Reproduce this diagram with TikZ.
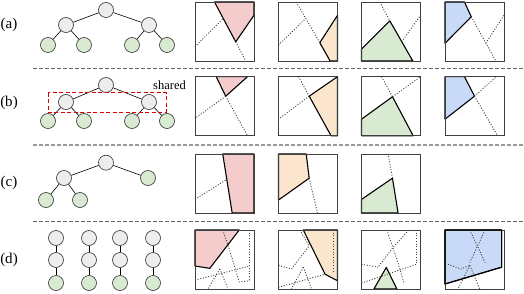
\documentclass[tikz,border=0pt]{standalone}
\usepackage{fontspec}
\setmainfont{Liberation Serif}
\usepackage{tikz}
\usetikzlibrary{positioning,calc}
\definecolor{cRed}{HTML}{F4CCCC}
\definecolor{cOrange}{HTML}{FCE5CD}
\definecolor{cGreen}{HTML}{D9EAD3}
\definecolor{cBlue}{HTML}{C9DAF8}
\tikzset{VERTEX/.style={circle,minimum size=15pt,inner sep=0pt,draw=black!80,semithick,fill=black!7}}
\tikzset{LEAF/.style={VERTEX,fill=cGreen}}
\tikzset{EDGE/.style={semithick,black}}
\tikzset{LABEL/.style={inner sep=0pt,font=\fontsize{15}{17}\selectfont}}
\tikzset{SEP/.style={line width=1.2pt,black!60,dash pattern=on 3.5pt off 2.5pt}}
\tikzset{FRAME/.style={draw=black!75,line width=0.9pt}}
\tikzset{REGION/.style={draw=black,line width=1.1pt,line join=round}}
\tikzset{CUT/.style={line width=0.9pt,black!75,dash pattern=on 1pt off 1.7pt}}
\tikzset{SQUARE/.style={x=59pt,y=-59pt}}

\begin{document}
\begin{tikzpicture}[x=1pt,y=-1pt]
\useasboundingbox (0,0) rectangle (524,294);

% row labels
\node[LABEL] (n_lab_a) at (9,25) {(a)};
\node[LABEL] (n_lab_b) at (9,103) {(b)};
\node[LABEL] (n_lab_c) at (9,183) {(c)};
\node[LABEL] (n_lab_d) at (9,260) {(d)};

% separators
\draw[SEP] (33,68.3) -- (524,68.3);
\draw[SEP,black!40] (33,145) -- (524,145);
\draw[SEP] (33,221.7) -- (524,221.7);

% (a) full tree
\node[VERTEX] (n_a_root) at (106,10) {};
\node[VERTEX] (n_a_l) at (66,25) {};
\node[VERTEX] (n_a_r) at (149,25) {};
\node[LEAF] (n_a_ll) at (48,45) {};
\node[LEAF] (n_a_lr) at (84,45) {};
\node[LEAF] (n_a_rl) at (132,45) {};
\node[LEAF] (n_a_rr) at (167,45) {};
\draw[EDGE] (n_a_root) -- (n_a_l);
\draw[EDGE] (n_a_root) -- (n_a_r);
\draw[EDGE] (n_a_l) -- (n_a_ll);
\draw[EDGE] (n_a_l) -- (n_a_lr);
\draw[EDGE] (n_a_r) -- (n_a_rl);
\draw[EDGE] (n_a_r) -- (n_a_rr);

% (b) tree with shared level
\node[VERTEX] (n_b_root) at (106,85) {};
\node[VERTEX] (n_b_l) at (66,102) {};
\node[VERTEX] (n_b_r) at (149,102) {};
\node[LEAF] (n_b_ll) at (48,121) {};
\node[LEAF] (n_b_lr) at (84,121) {};
\node[LEAF] (n_b_rl) at (132,121) {};
\node[LEAF] (n_b_rr) at (167,121) {};
\draw[EDGE] (n_b_root) -- (n_b_l);
\draw[EDGE] (n_b_root) -- (n_b_r);
\draw[EDGE] (n_b_l) -- (n_b_ll);
\draw[EDGE] (n_b_l) -- (n_b_lr);
\draw[EDGE] (n_b_r) -- (n_b_rl);
\draw[EDGE] (n_b_r) -- (n_b_rr);
\draw[red!85!black,line width=1pt,dash pattern=on 4pt off 2.5pt] (48,92.7) rectangle (166,112.3);
\node[anchor=east,inner sep=0pt,font=\fontsize{12.5}{14}\selectfont] (n_shared) at (186,85) {shared};

% (c) unbalanced tree
\node[VERTEX] (n_c_root) at (106,162.7) {};
\node[VERTEX] (n_c_l) at (64,178) {};
\node[LEAF] (n_c_r) at (148,178) {};
\node[LEAF] (n_c_ll) at (46,200) {};
\node[LEAF] (n_c_lr) at (80,200) {};
\draw[EDGE] (n_c_root) -- (n_c_l);
\draw[EDGE] (n_c_root) -- (n_c_r);
\draw[EDGE] (n_c_l) -- (n_c_ll);
\draw[EDGE] (n_c_l) -- (n_c_lr);

% (d) chains
\node[VERTEX] (n_d_1a) at (56,238) {};
\node[VERTEX] (n_d_1b) at (56,260) {};
\node[LEAF] (n_d_1c) at (56,283) {};
\node[VERTEX] (n_d_2a) at (89,238) {};
\node[VERTEX] (n_d_2b) at (89,260) {};
\node[LEAF] (n_d_2c) at (89,283) {};
\node[VERTEX] (n_d_3a) at (120,238) {};
\node[VERTEX] (n_d_3b) at (120,260) {};
\node[LEAF] (n_d_3c) at (120,283) {};
\node[VERTEX] (n_d_4a) at (153,238) {};
\node[VERTEX] (n_d_4b) at (153,260) {};
\node[LEAF] (n_d_4c) at (153,283) {};
\draw[EDGE] (n_d_1a) -- (n_d_1b) -- (n_d_1c);
\draw[EDGE] (n_d_2a) -- (n_d_2b) -- (n_d_2c);
\draw[EDGE] (n_d_3a) -- (n_d_3b) -- (n_d_3c);
\draw[EDGE] (n_d_4a) -- (n_d_4b) -- (n_d_4c);

% ---- row (a) squares
\begin{scope}[shift={(195,2)},SQUARE]
\draw[REGION,fill=cRed] (0.33,0) -- (0.69,0.675) -- (1,0.225) -- (1,0) -- cycle;
\draw[CUT] (0,0.76) -- (0.48,0.28);
\draw[CUT] (0.69,0.675) -- (0.86,1);
\draw[FRAME] (0,0) rectangle (1,1);
\end{scope}
\begin{scope}[shift={(278.5,2)},SQUARE]
\draw[REGION,fill=cOrange] (0.70,0.69) -- (1,0.225) -- (1,1) -- (0.875,1) -- cycle;
\draw[CUT] (0.30,0) -- (0.70,0.69);
\draw[CUT] (0,0.73) -- (0.46,0.28);
\draw[FRAME] (0,0) rectangle (1,1);
\end{scope}
\begin{scope}[shift={(361.5,2)},SQUARE]
\draw[REGION,fill=cGreen] (0,0.80) -- (0.48,0.32) -- (0.87,1) -- (0,1) -- cycle;
\draw[CUT] (0.31,0) -- (0.48,0.32);
\draw[CUT] (0.68,0.675) -- (1,0.225);
\draw[FRAME] (0,0) rectangle (1,1);
\end{scope}
\begin{scope}[shift={(445,2)},SQUARE]
\draw[REGION,fill=cBlue] (0,0) -- (0.33,0) -- (0.445,0.25) -- (0,0.70) -- cycle;
\draw[CUT] (0.445,0.25) -- (0.86,1);
\draw[CUT] (0.69,0.70) -- (1,0.225);
\draw[FRAME] (0,0) rectangle (1,1);
\end{scope}

% ---- row (b) squares
\begin{scope}[shift={(195,76.7)},SQUARE]
\draw[REGION,fill=cRed] (0.36,0) -- (0.89,0) -- (0.52,0.33) -- cycle;
\draw[CUT] (0.52,0.33) -- (0,0.705);
\draw[CUT] (0.52,0.33) -- (0.89,1);
\draw[FRAME] (0,0) rectangle (1,1);
\end{scope}
\begin{scope}[shift={(278.5,76.7)},SQUARE]
\draw[REGION,fill=cOrange] (0.52,0.33) -- (1,0) -- (1,1) -- (0.89,1) -- cycle;
\draw[CUT] (0.34,0) -- (0.52,0.33);
\draw[CUT] (0.52,0.33) -- (0,0.72);
\draw[FRAME] (0,0) rectangle (1,1);
\end{scope}
\begin{scope}[shift={(361.5,76.7)},SQUARE]
\draw[REGION,fill=cGreen] (0,0.72) -- (0.525,0.34) -- (0.875,1) -- (0,1) -- cycle;
\draw[CUT] (0.34,0) -- (0.525,0.34);
\draw[CUT] (0.525,0.34) -- (1,0);
\draw[FRAME] (0,0) rectangle (1,1);
\end{scope}
\begin{scope}[shift={(445,76.7)},SQUARE]
\draw[REGION,fill=cBlue] (0,0) -- (0.33,0) -- (0.5,0.33) -- (0,0.72) -- cycle;
\draw[CUT] (0.5,0.33) -- (0.87,0);
\draw[CUT] (0.5,0.33) -- (0.89,1);
\draw[FRAME] (0,0) rectangle (1,1);
\end{scope}

% ---- row (c) squares
\begin{scope}[shift={(195,154)},SQUARE]
\draw[REGION,fill=cRed] (0.47,0) -- (1,0) -- (1,1) -- (0.63,1) -- cycle;
\draw[CUT] (0,0.77) -- (0.54,0.43);
\draw[FRAME] (0,0) rectangle (1,1);
\end{scope}
\begin{scope}[shift={(278.5,154)},SQUARE]
\draw[REGION,fill=cOrange] (0,0) -- (0.47,0) -- (0.52,0.41) -- (0,0.78) -- cycle;
\draw[CUT] (0.52,0.41) -- (0.66,1);
\draw[FRAME] (0,0) rectangle (1,1);
\end{scope}
\begin{scope}[shift={(361.5,154)},SQUARE]
\draw[REGION,fill=cGreen] (0,0.77) -- (0.525,0.41) -- (0.62,1) -- (0,1) -- cycle;
\draw[CUT] (0.525,0.41) -- (0.45,0);
\draw[FRAME] (0,0) rectangle (1,1);
\end{scope}

% ---- row (d) squares
\begin{scope}[shift={(195,230)},SQUARE]
\draw[REGION,fill=cRed] (0,0) -- (0.75,0) -- (0.25,0.65) -- (0,0.61) -- cycle;
\draw[CUT] (0.47,0) -- (0.58,0.32) -- (0.75,0.88) -- (0.93,0.86);
\draw[CUT] (0.93,0) -- (0.93,0.86);
\draw[CUT] (0,0.85) -- (0.93,0.61);
\draw[CUT] (0.42,0.66) -- (0.56,1);
\draw[CUT] (0.42,0.66) -- (0.22,1);
\draw[FRAME] (0,0) rectangle (1,1);
\end{scope}
\begin{scope}[shift={(278.5,230)},SQUARE]
\draw[REGION,fill=cOrange] (0.42,0) -- (1,0) -- (1,0.86) -- (0.79,0.75) -- cycle;
\draw[CUT] (0.93,0) -- (0.93,0.72);
\draw[CUT] (0.36,0) -- (0.52,0.27);
\draw[CUT] (0,0.6) -- (0.22,0.66) -- (0.52,0.27);
\draw[CUT] (0,0.97) -- (0.79,0.75);
\draw[CUT] (0.42,0.63) -- (0.56,1);
\draw[CUT] (0.42,0.63) -- (0.22,1);
\draw[FRAME] (0,0) rectangle (1,1);
\end{scope}
\begin{scope}[shift={(361.5,230)},SQUARE]
\draw[REGION,fill=cGreen] (0.21,1) -- (0.42,0.635) -- (0.6,1) -- cycle;
\draw[CUT] (0.43,0) -- (0.6,0.5) -- (0.72,0.9);
\draw[CUT] (0.8,0) -- (0.53,0.3) -- (0.28,0.63);
\draw[CUT] (0,0.58) -- (0.28,0.63);
\draw[CUT] (0,0.9) -- (0.93,0.58);
\draw[CUT] (0.93,0) -- (0.93,0.58);
\draw[FRAME] (0,0) rectangle (1,1);
\end{scope}
\begin{scope}[shift={(445,230)},SQUARE]
\draw[REGION,fill=cBlue] (0,0) -- (0.96,0) -- (0.96,0.63) -- (0,0.915) -- cycle;
\draw[CUT] (0.42,0) -- (0.68,0.55);
\draw[CUT] (0.68,0) -- (0.42,0.55);
\draw[CUT] (0.05,0.58) -- (0.27,0.66) -- (0.42,0.6);
\draw[CUT] (0.42,0.6) -- (0.22,1);
\draw[CUT] (0.42,0.6) -- (0.59,1);
\draw[FRAME] (0,0) rectangle (1,1);
\draw[REGION] (0,0) -- (0.96,0) -- (0.96,0.63) -- (0,0.915) -- cycle;
\end{scope}

\end{tikzpicture}
\end{document}
